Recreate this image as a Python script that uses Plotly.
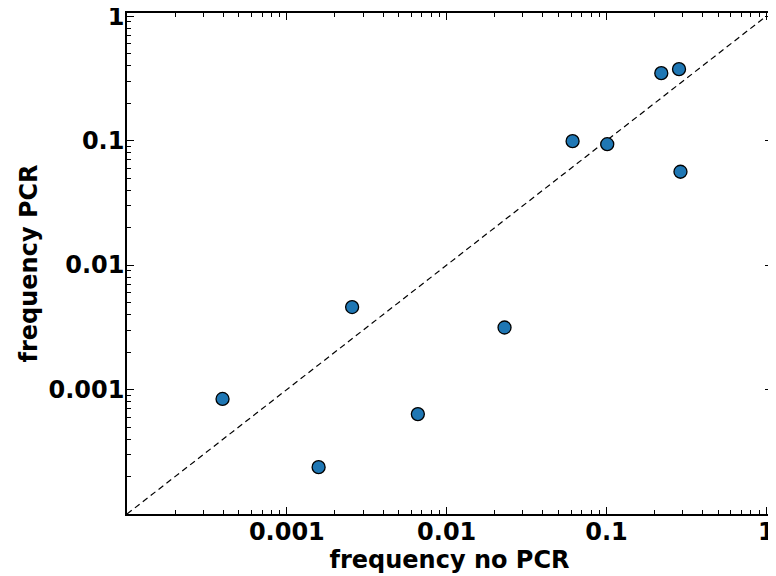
import numpy as np
import plotly.graph_objects as go

freq_no_pcr = [3.96e-4, 1.58e-3, 2.56e-3, 6.6e-3, 0.0230, 0.0613, 0.101, 0.220, 0.284, 0.290]
freq_pcr = [8.4e-4, 2.38e-4, 4.6e-3, 6.35e-4, 3.15e-3, 0.0990, 0.0935, 0.348, 0.375, 0.0562]

tick_vals = [0.001, 0.01, 0.1, 1]
tick_text = ["0.001", "0.01", "0.1", "1"]
diag = [1e-4, 1]

minor_vals = [m * 10.0 ** e for e in range(-4, 1) for m in range(2, 10)]

fig = go.Figure()
fig.add_trace(go.Scatter(x=diag, y=diag, mode="lines",
                         line=dict(color="black", width=1.2, dash="6px,4px"),
                         showlegend=False, hoverinfo="skip", cliponaxis=True))
fig.add_trace(go.Scatter(x=freq_no_pcr, y=freq_pcr, mode="markers",
                         marker=dict(size=13, color="#1f77b4",
                                     line=dict(color="black", width=1.3)),
                         showlegend=False))

font = dict(family="DejaVu Sans", size=24, color="black", weight="bold")
axis_common = dict(
    type="log", showgrid=False, zeroline=False,
    showline=True, linecolor="black", linewidth=1.5, mirror="allticks",
    ticks="inside", ticklen=7, tickwidth=1, tickcolor="black",
    tickmode="array", tickvals=tick_vals, ticktext=tick_text,
    tickfont=font, ticklabeloverflow="allow",
    minor=dict(ticks="inside", ticklen=4, tickwidth=1, tickcolor="black",
               tickmode="array", tickvals=minor_vals, showgrid=False),
)
fig.update_xaxes(**axis_common, range=[-4, 0.035], ticklabelstandoff=-5,
                 title=dict(text="frequency no PCR", font=font, standoff=2))
fig.update_yaxes(**axis_common, range=[-4, 0.025], ticklabelstandoff=-4,
                 title=dict(text="frequency PCR", font=font, standoff=4))

# page body has an 8px margin, so the figure is 8px smaller and margins shifted
fig.update_layout(
    width=768, height=568,
    margin=dict(l=119, r=4, t=5, b=62, autoexpand=False),
    plot_bgcolor="white", paper_bgcolor="white",
    font=font,
)
fig.write_html("out.html")
